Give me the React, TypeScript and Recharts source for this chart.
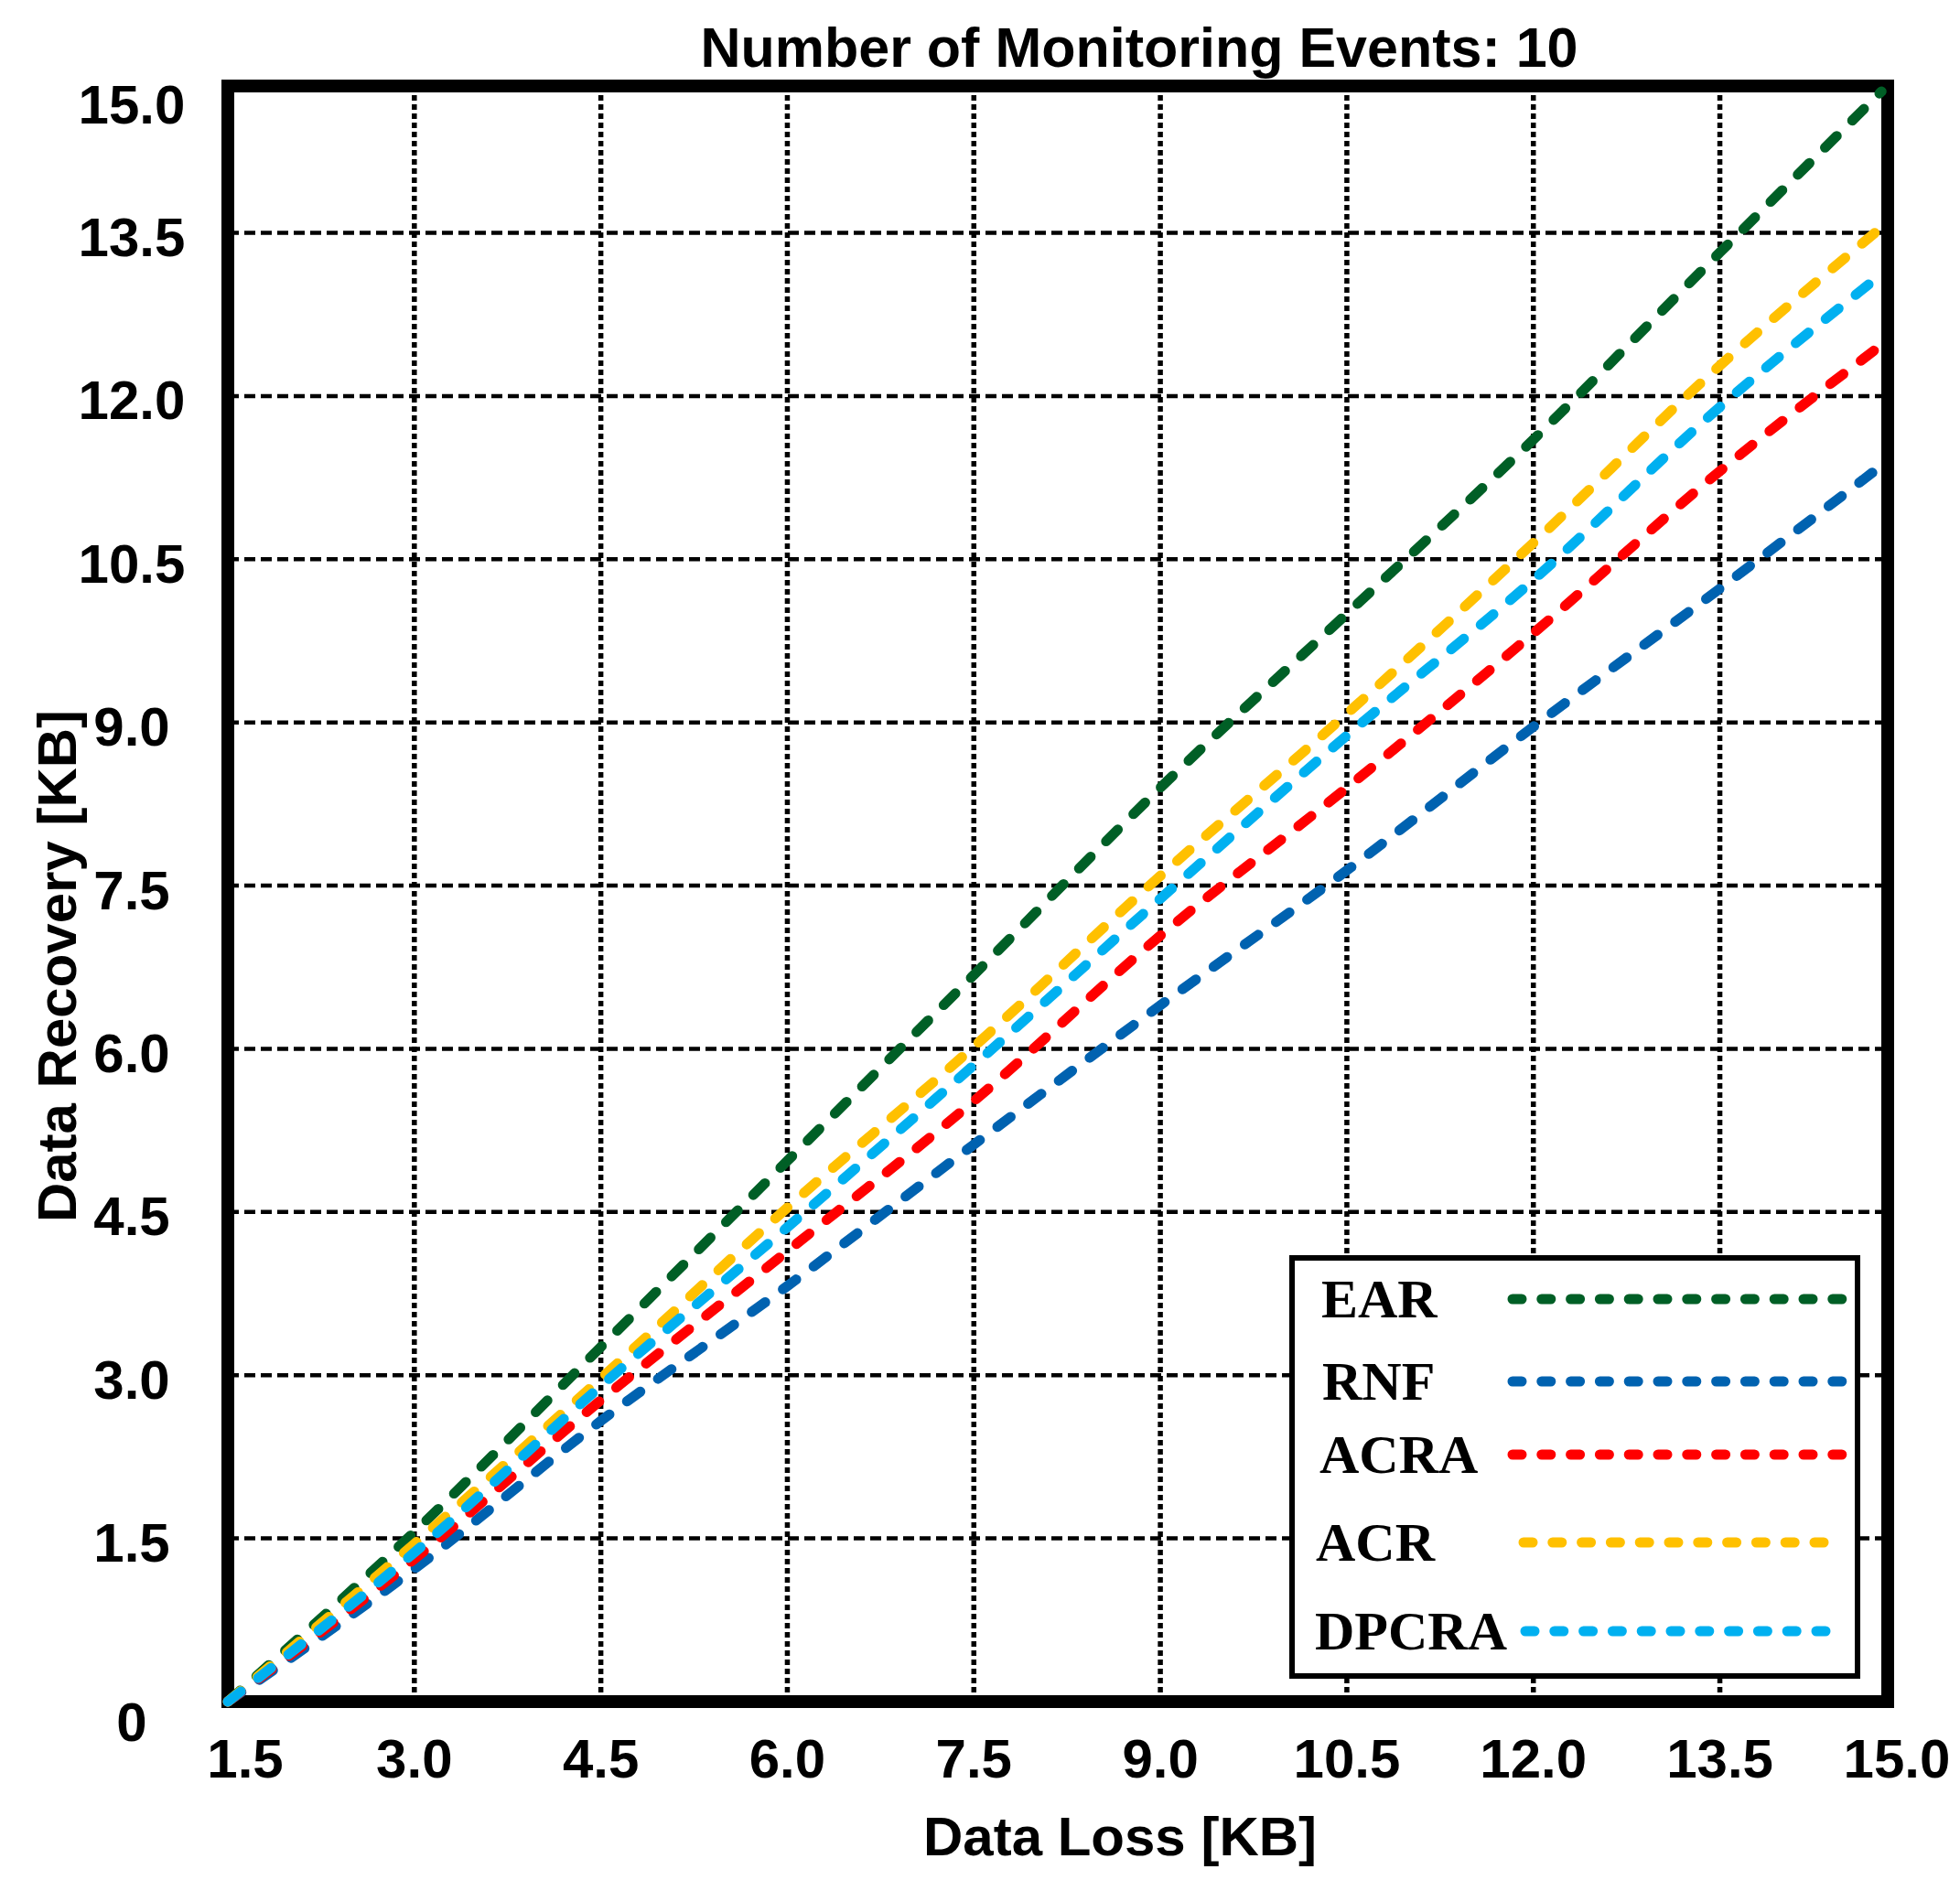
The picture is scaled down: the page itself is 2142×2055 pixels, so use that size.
import { LineChart, Line, XAxis, YAxis, CartesianGrid, ReferenceArea, Legend } from 'recharts'

// the plot frame ends a little short of 15 on both axes, the last tick is still labelled 15.0
const X_MAX = 14.85
const Y_MAX = 14.85

const X_VALUES = [1.5, 3, 4.5, 6, 7.5, 9, 10.5, 12, 13.5, 14.8]
const EAR = [0, 1.56, 3.26, 4.97, 6.68, 8.4, 10.0, 11.6, 13.32, 14.8]
const RNF = [0, 1.22, 2.58, 3.82, 5.12, 6.4, 7.64, 8.96, 10.23, 11.36]
const ACRA = [0, 1.31, 2.77, 4.14, 5.52, 7.04, 8.4, 9.82, 11.31, 12.47]
const ACR = [0, 1.45, 2.97, 4.54, 6.02, 7.59, 9.08, 10.65, 12.28, 13.55]
const DPCRA = [0, 1.37, 2.9, 4.36, 5.85, 7.38, 8.88, 10.31, 11.9, 13.12]

const X_TICKS = [1.5, 3, 4.5, 6, 7.5, 9, 10.5, 12, 13.5, X_MAX]
const X_TICK_LABELS = ['1.5', '3.0', '4.5', '6.0', '7.5', '9.0', '10.5', '12.0', '13.5', '15.0']
const Y_TICKS = [0, 1.5, 3, 4.5, 6, 7.5, 9, 10.5, 12, 13.5, Y_MAX]
const Y_TICK_LABELS = ['0', '1.5', '3.0', '4.5', '6.0', '7.5', '9.0', '10.5', '12.0', '13.5', '15.0']

const SERIES = [
  { key: 'EAR', values: EAR, color: '#005f26' },
  { key: 'RNF', values: RNF, color: '#0062b0' },
  { key: 'ACRA', values: ACRA, color: '#ff0000' },
  { key: 'ACR', values: ACR, color: '#ffc000' },
  { key: 'DPCRA', values: DPCRA, color: '#00b0f0' },
]

const data = X_VALUES.map((x, i) => {
  const row: Record<string, number> = { x }
  for (const s of SERIES) row[s.key] = s.values[i]
  return row
})

const SANS = '"Liberation Sans", Arial, sans-serif'
const SERIF = '"Liberation Serif", "Times New Roman", serif'

// legend row placement inside the box
const LEGEND_ROWS = [
  { y: 48, textX: 35, x1: 244, x2: 609 },
  { y: 138, textX: 36, x1: 244, x2: 609 },
  { y: 218, textX: 33, x1: 244, x2: 609 },
  { y: 314, textX: 29, x1: 256, x2: 592 },
  { y: 411, textX: 28, x1: 258, x2: 594 },
]

function YTick(props: any) {
  const { y, index } = props
  let dy = 5
  if (index === 0) dy = 22
  if (index === Y_TICKS.length - 1) dy = 20
  return (
    <text x={144} y={y + dy} textAnchor="middle" dominantBaseline="central"
      fontFamily={SANS} fontWeight="bold" fontSize={60} fill="#000">
      {Y_TICK_LABELS[index]}
    </text>
  )
}

function XTick(props: any) {
  const { x, index } = props
  let dx = 0
  if (index === 0) dx = 19
  if (index === X_TICKS.length - 1) dx = 10
  return (
    <text x={x + dx} y={1922} textAnchor="middle" dominantBaseline="central"
      fontFamily={SANS} fontWeight="bold" fontSize={60} fill="#000">
      {X_TICK_LABELS[index]}
    </text>
  )
}

function LegendBox() {
  return (
    <svg width={624} height={463} style={{ display: 'block' }}>
      <rect x={3} y={3} width={618} height={457} fill="#fff" stroke="#000" strokeWidth={6} />
      {SERIES.map((s, i) => {
        const r = LEGEND_ROWS[i]
        return (
          <g key={s.key}>
            <text x={r.textX} y={r.y} dominantBaseline="central" fontFamily={SERIF}
              fontWeight="bold" fontSize={60} fill="#000">
              {s.key}
            </text>
            <line x1={r.x1} x2={r.x2} y1={r.y} y2={r.y} stroke={s.color} strokeWidth={11}
              strokeDasharray="10 21.8" strokeLinecap="round" />
          </g>
        )
      })}
    </svg>
  )
}

export default function App() {
  return (
    <div style={{ position: 'absolute', left: 0, top: 0, width: 2142, height: 2055, background: '#fff' }}>
      <div
        style={{
          position: 'absolute', left: 745, top: 22, width: 1000, textAlign: 'center',
          fontFamily: SANS, fontWeight: 'bold', fontSize: 61, lineHeight: '60px', color: '#000',
        }}
      >
        Number of Monitoring Events: 10
      </div>
      <LineChart
        width={2142}
        height={2055}
        data={data}
        margin={{ top: 94, right: 79, left: 149, bottom: 135 }}
      >
        <CartesianGrid vertical={false} stroke="#000" strokeWidth={4.5} strokeDasharray="12 6" />
        <CartesianGrid horizontal={false} stroke="#000" strokeWidth={5.5} strokeDasharray="6 4" />
        <XAxis
          dataKey="x"
          type="number"
          domain={[1.5, X_MAX]}
          ticks={X_TICKS}
          axisLine={false}
          tickLine={false}
          height={60}
          tick={<XTick />}
          interval={0}
          label={() => (
            <text x={1224} y={2007} textAnchor="middle" dominantBaseline="central"
              fontFamily={SANS} fontWeight="bold" fontSize={60} fill="#000">
              Data Loss [KB]
            </text>
          )}
        />
        <YAxis
          type="number"
          domain={[0, Y_MAX]}
          ticks={Y_TICKS}
          axisLine={false}
          tickLine={false}
          width={100}
          tick={<YTick />}
          interval={0}
          label={() => (
            <text x={62} y={1056} transform="rotate(-90, 62, 1056)" textAnchor="middle"
              dominantBaseline="central" fontFamily={SANS} fontWeight="bold" fontSize={60} fill="#000">
              Data Recovery [KB]
            </text>
          )}
        />
        {SERIES.map((s) => (
          <Line
            key={s.key}
            dataKey={s.key}
            type="monotone"
            stroke={s.color}
            strokeWidth={11}
            strokeDasharray="18 24"
            strokeLinecap="round"
            dot={false}
            activeDot={false}
            isAnimationActive={false}
          />
        ))}
        <ReferenceArea
          x1={1.5}
          x2={X_MAX}
          y1={0}
          y2={Y_MAX}
          fill="none"
          fillOpacity={0}
          stroke="#000"
          strokeWidth={14}
          ifOverflow="visible"
        />
        <Legend
          layout="vertical"
          align="center"
          verticalAlign="middle"
          wrapperStyle={{ position: 'absolute', left: 1409, top: 1372, width: 624, height: 463 }}
          content={() => <LegendBox />}
        />
      </LineChart>
    </div>
  )
}
